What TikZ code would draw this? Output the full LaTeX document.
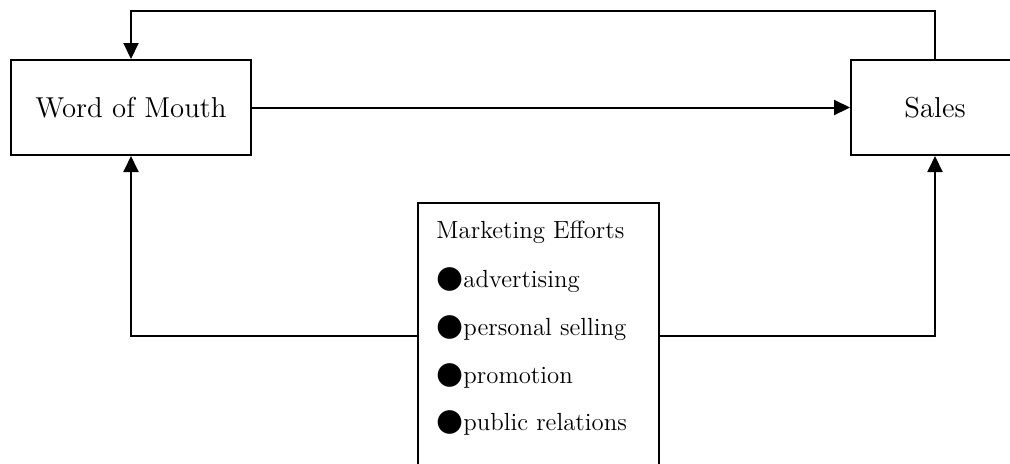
\documentclass[tikz,border=0pt]{standalone}
\usepackage{fontspec}
\usetikzlibrary{arrows.meta}
\newfontfamily\bulletfont{DejaVu Sans}
\newcommand{\dotitem}{{\bulletfont\fontsize{15.5}{15.5}\selectfont ●}}

\tikzset{
    block/.style={draw, line width=1pt, inner sep=0pt, minimum height=47.5pt},
    flow/.style={line width=1pt, -{Triangle[length=8pt, width=7.5pt]}},
    listline/.style={anchor=west, inner sep=0pt, font=\fontsize{12.4}{14}\selectfont}
}

\begin{document}
\begin{tikzpicture}[x=0.5pt, y=-0.5pt]
    \clip (0,0) rectangle (1010,463);
    % the two outcome boxes
    \node[block, minimum width=120pt, font=\Large] (wom) at (131,107.5) {Word of Mouth};
    \node[block, minimum width=84pt, font=\Large] (sales) at (935,107.5) {Sales};
    % marketing box with its list
    \node[block, minimum width=120.5pt, minimum height=133pt] (mkt) at (538.5,336) {};
    \node[listline] (title) at (436,232) {Marketing Efforts};
    \node[listline] (adv) at (436,280) {\dotitem advertising};
    \node[listline] (sell) at (436,328) {\dotitem personal selling};
    \node[listline] (promo) at (436,376) {\dotitem promotion};
    \node[listline] (pr) at (436,423) {\dotitem public relations};
    % connectors
    \draw[flow] (wom) -- (sales);
    \draw[flow] (sales.north) -- ++(0,-48) -| (wom.north);
    \draw[flow] (mkt.west) -| (wom.south);
    \draw[flow] (mkt.east) -| (sales.south);
\end{tikzpicture}
\end{document}
